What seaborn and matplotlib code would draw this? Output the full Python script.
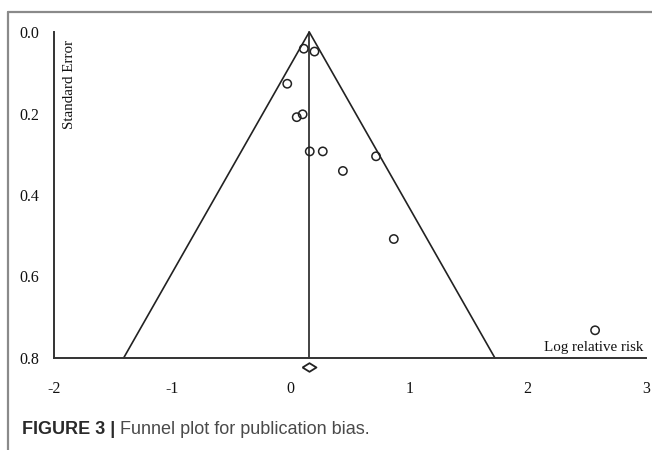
import matplotlib
matplotlib.use("Agg")
import matplotlib.pyplot as plt
import numpy as np
import pandas as pd
import seaborn as sns

# Study estimates
log_rr = [0.11, 0.20, -0.03, 0.10, 0.05, 0.16, 0.27, 0.72, 0.44, 0.87, 2.57]
std_err = [0.041, 0.048, 0.127, 0.202, 0.209, 0.293, 0.293, 0.305, 0.341, 0.508, 0.732]
pooled = 0.156
x_ticks = [-2, -1, 0, 1, 2, 3]
y_ticks = [0.0, 0.2, 0.4, 0.6, 0.8]

df = pd.DataFrame({"log_rr": log_rr, "se": std_err})

sns.set_style("white")
plt.rcParams["font.family"] = ["Liberation Serif", "DejaVu Serif"]

fig = plt.figure(figsize=(6.52, 4.5), dpi=100)
ax = fig.add_axes([54 / 652, 1 - 358 / 450, 592 / 652, 326 / 450])

se_max = max(y_ticks)
ink = "#222222"
# funnel (95% limits) and pooled estimate
ax.plot([pooled - 1.96 * se_max, pooled, pooled + 1.96 * se_max], [se_max, 0, se_max],
        color=ink, lw=1.2, clip_on=False)
ax.plot([pooled, pooled], [0, se_max], color=ink, lw=1.2, clip_on=False)

sns.scatterplot(data=df, x="log_rr", y="se", ax=ax, marker="o", s=36,
                facecolor="none", edgecolor=ink, linewidth=1.1, clip_on=False, zorder=3)

# pooled diamond below the axis
diamond = [(-1, 0), (0, 0.62), (1, 0), (0, -0.62), (-1, 0)]
ax.scatter([pooled], [se_max + 0.021], marker=diamond, s=100, facecolor="white",
           edgecolor=ink, linewidth=1.3, clip_on=False, zorder=4)

ax.set_xlim(x_ticks[0], x_ticks[-1])
ax.set_ylim(se_max, 0)
ax.set_xticks(x_ticks)
ax.set_xticklabels([str(t) for t in x_ticks])
ax.set_yticks(y_ticks)
ax.set_yticklabels([f"{t:.1f}" for t in y_ticks])
ax.tick_params(axis="x", direction="inout", length=5, width=1, color=ink,
               labelsize=11.5, pad=14, labelcolor="#111111")
ax.tick_params(axis="y", direction="inout", length=5, width=1, color=ink,
               labelsize=11.5, pad=8, labelcolor="#111111")
ax.set_xlabel("")
ax.set_ylabel("")
sns.despine(ax=ax, top=True, right=True)
for side in ["left", "bottom"]:
    ax.spines[side].set_color("#333333")
    ax.spines[side].set_linewidth(1.4)
ax.patch.set_alpha(0)

ax.text(0.015, 0.975, "Standard Error", transform=ax.transAxes, rotation=90,
        ha="left", va="top", fontsize=10.8, color="#111111")
ax.text(0.995, 0.012, "Log relative risk", transform=ax.transAxes,
        ha="right", va="bottom", fontsize=10.8, color="#111111")

# journal frame and caption
frame = "#8a8a8a"
fig.add_artist(plt.Line2D([8 / 652, 8 / 652], [0, 1 - 12 / 450], color=frame, lw=1.6,
                          transform=fig.transFigure))
fig.add_artist(plt.Line2D([8 / 652, 1], [1 - 12 / 450, 1 - 12 / 450], color=frame, lw=1.6,
                          transform=fig.transFigure))
cap_y = 1 - 430 / 450
t1 = fig.text(22 / 652, cap_y, "FIGURE 3 | ", fontsize=13, fontweight="bold",
              family="Liberation Sans", color="#2a2a2a", va="center", ha="left")
fig.canvas.draw()
bb = t1.get_window_extent()
fig.text(bb.x1 / fig.bbox.width, cap_y, "Funnel plot for publication bias.", fontsize=13,
         family="Liberation Sans", color="#4a4a4a", va="center", ha="left")

fig.savefig("out.png", dpi=100)
